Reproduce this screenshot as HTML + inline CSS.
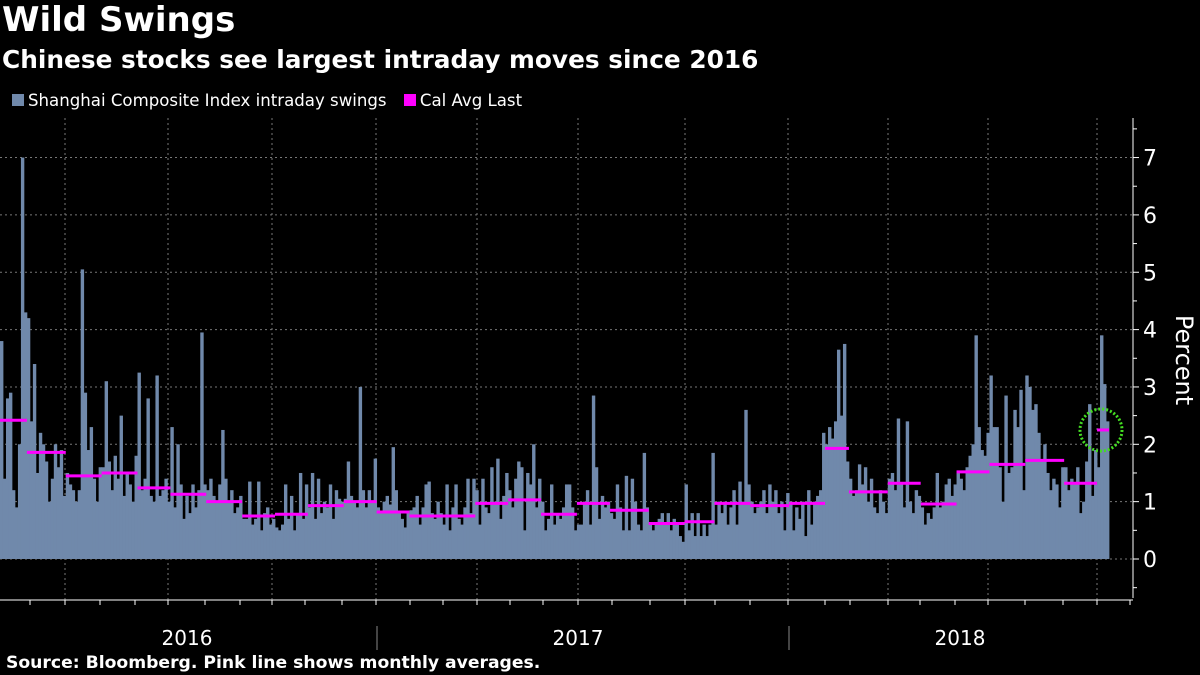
<!DOCTYPE html>
<html><head><meta charset="utf-8"><style>
html,body{margin:0;padding:0;background:#000;}
body{width:1200px;height:675px;overflow:hidden;position:relative;font-family:"DejaVu Sans","Liberation Sans",sans-serif;color:#fff;}
.t{position:absolute;white-space:nowrap;}
</style></head><body>
<div class="t" style="left:2px;top:0px;font-size:34px;font-weight:bold;">Wild Swings</div>
<div class="t" style="left:2px;top:45px;font-size:24.8px;font-weight:bold;">Chinese stocks see largest intraday moves since 2016</div>
<div class="t" style="left:6px;top:91px;font-size:16.6px;">
<span><span style="display:inline-block;width:12px;height:12px;background:#7089ab;margin:0 4px 0 6px;"></span>Shanghai Composite Index intraday swings</span>
<span style="margin-left:12px;"><span style="display:inline-block;width:12px;height:12px;background:#ff00ff;margin-right:4px;"></span>Cal Avg Last</span>
</div>
<svg id="chart" width="1200" height="675" style="position:absolute;left:0;top:0;"></svg>
<div class="t" style="left:6px;top:653px;font-size:17.2px;font-weight:bold;">Source: Bloomberg. Pink line shows monthly averages.</div>
<script>
const monthValues = [
[3.8,1.4,2.8,2.9,1.2,0.9,2.0,7.0,4.3],
[4.2,2.4,3.4,1.5,2.2,2.0,1.7,1.0,1.4,2.0,1.6,1.9,1.1],
[1.5,1.3,1.2,1.0,1.2,5.05,2.9,1.9,2.3,1.4,1.0,1.6],
[1.6,3.1,1.7,1.2,1.8,1.4,2.5,1.1,1.5,1.3,1.0,1.8],
[3.25,1.2,1.4,2.8,1.1,1.0,3.2,1.1,1.2,1.4,1.0],
[2.3,0.9,2.0,1.3,0.7,1.1,0.8,1.3,0.9,1.2,3.95,1.3],
[1.2,1.4,1.1,1.0,1.3,2.25,1.4,1.0,1.2,0.8,0.9,1.1],
[0.7,0.7,1.35,0.6,0.7,1.35,0.5,0.8,0.9,0.6,0.7],
[0.55,0.5,0.6,1.3,0.7,1.1,0.5,0.8,1.5,0.7,1.3],
[0.9,1.5,0.7,1.4,0.8,1.0,0.9,1.3,0.7,1.2,1.05,1.0],
[1.05,1.7,1.1,1.0,0.9,3.0,1.2,0.9,1.2,1.0,1.75],
[0.9,0.8,1.0,1.1,0.95,1.95,1.2,0.8,0.7,0.55,0.8],
[0.85,0.9,1.1,0.6,0.9,1.3,1.35,0.8,0.7,1.0,0.8],
[0.6,1.3,0.5,0.9,1.3,0.7,0.6,0.9,1.4,0.8,1.4],
[1.2,0.6,1.4,0.9,0.8,1.6,1.0,1.75,0.7,1.1,1.5],
[1.2,0.9,1.4,1.7,1.6,0.5,1.5,1.3,2.0,0.9,1.4],
[1.0,0.5,0.7,1.3,0.6,0.8,0.7,0.9,1.3,1.3,0.9,0.5],
[0.6,0.6,1.0,1.2,0.6,2.85,1.6,0.7,1.1,0.9,1.0],
[0.8,0.7,1.3,0.9,0.5,1.45,0.5,1.4,1.0,0.6,0.5,1.85,0.9],
[0.6,0.5,0.6,0.7,0.8,0.6,0.8,0.5,0.7,0.6,0.4,0.3],
[1.3,0.5,0.8,0.4,0.8,0.4,0.6,0.4,0.6,1.85],
[0.6,1.0,0.8,1.0,0.6,0.9,1.2,0.6,1.35,1.0,2.6,1.3],
[1.0,0.8,0.9,1.0,1.2,0.8,1.3,1.0,1.2,0.8,1.0,0.5,1.15],
[1.0,0.5,0.9,0.7,1.0,0.4,1.2,0.6,1.0,1.1,1.2,2.2],
[2.0,2.3,2.1,2.4,3.65,2.5,3.75,1.7],
[1.4,1.1,1.2,1.65,1.3,1.6,1.0,1.4,0.9,0.8,1.2,1.0,0.8],
[1.4,1.5,1.2,2.45,1.3,0.9,2.4,1.0,0.8,1.2,1.1],
[0.9,0.6,0.8,0.7,0.9,1.5,0.9,1.0,1.3,1.4,1.1,1.3],
[1.5,1.4,1.2,1.6,1.8,2.0,3.9,2.3,1.9,1.8,2.2],
[3.2,2.3,2.3,1.6,1.0,2.85,1.5,1.6,2.6,2.3,2.95,1.2],
[3.2,3.0,2.6,2.7,2.2,1.7,2.0,1.5,1.2,1.4,1.3,0.9,1.6],
[1.6,1.2,1.4,1.3,1.6,0.8,1.0,1.7,2.7,1.1,1.9],
[1.6,3.9,3.05,2.4]
];
const monthAverages = [2.42,1.86,1.45,1.5,1.24,1.13,1.0,0.75,0.78,0.93,1.0,0.82,0.75,0.75,0.97,1.03,0.78,0.97,0.85,0.62,0.65,0.97,0.93,0.97,1.93,1.17,1.32,0.96,1.52,1.65,1.72,1.32,2.25];
const yTicks = [0,1,2,3,4,5,6,7];
const yearLabels = ["2016","2017","2018"];

const NS="http://www.w3.org/2000/svg";
const svg=document.getElementById('chart');
const FF='DejaVu Sans, Liberation Sans, sans-serif';
function mk(tag,attrs,parent){const e=document.createElementNS(NS,tag);for(const k in attrs)e.setAttribute(k,attrs[k]);(parent||svg).appendChild(e);return e;}
const X0=0,X1=1109,AX=1133,Y0=559,PU=57.35;
const y=v=>Y0-v*PU;
const total=monthValues.reduce((a,m)=>a+m.length,0);
const bw=(X1-X0)/total;
const xi=i=>X0+i*bw;
const vGrid=[65,168,272,376,477,578,685,788,888,988,1097];
vGrid.forEach(gx=>{const l=mk('line',{x1:gx,x2:gx,y1:118,y2:600,stroke:'#777','stroke-width':1,'stroke-dasharray':'2,3'});

});
yTicks.forEach(t=>{const l=mk('line',{x1:0,x2:AX,y1:y(t),y2:y(t),stroke:'#777','stroke-width':1,'stroke-dasharray':'2,3'});

});
const bars=mk('g',{});


let idx=0;
monthValues.forEach((m,mi)=>{
  const start=idx;
  m.forEach(v=>{const r=mk('rect',{x:xi(idx),y:y(v),width:bw+0.4,height:v*PU,fill:'#7089ab'},bars);
  
  
  idx++;});
  const a=mk('line',{x1:xi(start),x2:xi(idx),y1:y(monthAverages[mi]),y2:y(monthAverages[mi]),stroke:'#ff00ff','stroke-width':3});
  
  
});
const ax=mk('line',{x1:AX,x2:AX,y1:118,y2:598,stroke:'#fff','stroke-width':1});


for(let v=-0.5;v<=7.5;v+=0.5){const major=Number.isInteger(v);
 const tk=mk('line',{x1:AX,x2:AX+(major?6:4),y1:y(v),y2:y(v),stroke:'#fff','stroke-width':1});
 
 }
yTicks.forEach(t=>{const tx=mk('text',{x:1143,y:y(t)+8,fill:'#fff','font-size':22,'font-family':FF});tx.textContent=t;

});
const yt=mk('text',{x:0,y:0,fill:'#fff','font-size':24,'font-family':FF,transform:'translate(1176,360) rotate(90)','text-anchor':'middle'});
yt.textContent='Percent';


const xa=mk('line',{x1:0,x2:AX,y1:600,y2:600,stroke:'#fff','stroke-width':1});


const mticks=[30,65,100,135,168,205,240,272,305,342,376,410,443,477,510,543,578,612,650,685,715,750,788,825,850,888,920,955,988,1025,1063,1097,1130];
mticks.forEach(mx=>{const t=mk('line',{x1:mx,x2:mx,y1:600,y2:605,stroke:'#fff','stroke-width':1});

});
[377,789].forEach(sx=>{const s=mk('line',{x1:sx,x2:sx,y1:626,y2:650,stroke:'#888','stroke-width':1});

});
const yearX=[187,578,960];
yearLabels.forEach((yl,i)=>{const t=mk('text',{x:yearX[i],y:645,fill:'#fff','font-size':20,'text-anchor':'middle','font-family':FF});t.textContent=yl;

});
const c=mk('circle',{cx:1101,cy:430,r:21,fill:'none',stroke:'#44dd22','stroke-width':3,'stroke-dasharray':'2,2'});


</script>
</body></html>
